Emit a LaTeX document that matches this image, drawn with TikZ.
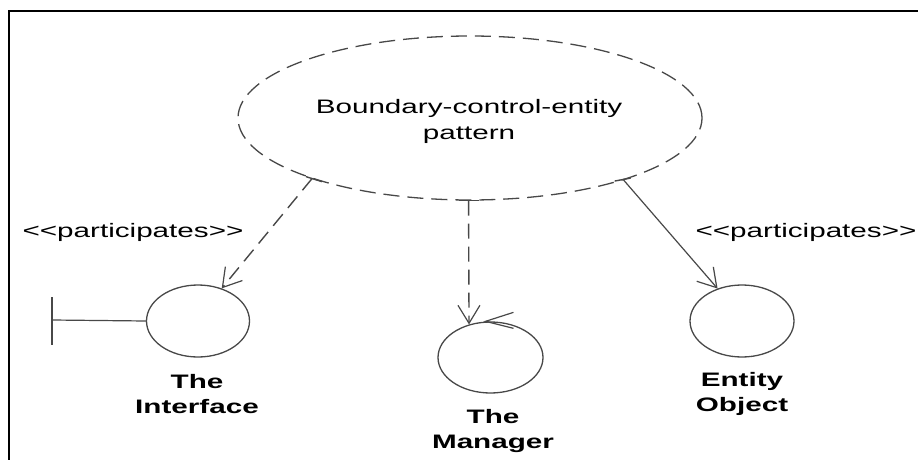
\documentclass[tikz,border=0pt]{standalone}
\usepackage{fontspec}
\setmainfont{Liberation Sans}[FakeStretch=1.52]
\usetikzlibrary{shapes.geometric,arrows.meta}
\definecolor{ln}{HTML}{484848}
\tikzset{
  ovalshape/.style={ellipse,draw=ln,line width=1.3pt,inner sep=0pt},
  lbl/.style={font=\fontsize{19.5}{25}\selectfont,inner sep=0pt,align=center},
  blbl/.style={font=\fontsize{19.5}{25}\selectfont\bfseries,inner sep=0pt,align=center},
  dline/.style={draw=ln,line width=1.4pt,dash pattern=on 15pt off 8pt},
  sline/.style={draw=ln,line width=1.2pt},
  opentip/.style={-{Straight Barb[length=18pt,width=22pt,line width=1.2pt]}},
  tick/.style={draw=ln,line width=1.4pt}
}
\begin{document}
\begin{tikzpicture}[x=1pt,y=-1pt]
\useasboundingbox (0,0) rectangle (918,460);
% frame
\draw[line width=2pt,black] (9,461) -- (9,11) -- (919,11);
% pattern ellipse
\node[ovalshape,dash pattern=on 16pt off 8pt,minimum width=464pt,minimum height=164pt] (pat) at (470,118) {};
\node[lbl,anchor=base] (pattxt) at (469,139) {Boundary-control-entity\\pattern};
% objects
\node[ovalshape,minimum width=103pt,minimum height=72pt] (int) at (198,321) {};
\node[ovalshape,minimum width=105pt,minimum height=71pt] (man) at (490.5,357.5) {};
\node[ovalshape,minimum width=104pt,minimum height=72pt] (ent) at (742,321) {};
% boundary symbol
\coordinate (bnd) at (52,320);
\draw[sline] (int.west) -- (bnd);
\draw[sline] (52,297) -- (52,345);
% control arrowhead on manager
\draw[sline] ([shift={(23,-9)}]man.north) -- ([shift={(-5,0)}]man.north) -- ([shift={(23,7)}]man.north);
% labels
\node[blbl,anchor=base] (intl) at (197,413) {The\\Interface};
\node[blbl,anchor=base] (manl) at (493,448) {The\\Manager};
\node[blbl,anchor=base] (entl) at (742,411) {Entity\\Object};
\node[lbl,anchor=base] (p1) at (133,237) {<{}<participates>{}>};
\node[lbl,anchor=base] (p2) at (806,237) {<{}<participates>{}>};
% connectors
\coordinate (s1) at (pat.201.8);
\coordinate (s2) at (pat.269);
\coordinate (s3) at (pat.338.2);
\draw[dline,opentip] (s1) -- (int.54);
\draw[dline,opentip] (s2) -- (man.123);
\draw[sline,opentip] (s3) -- (ent.127);
\draw[tick] ([shift={(-6,-2)}]s1) -- ([shift={(10,3)}]s1);
\draw[tick] ([shift={(-10,0)}]s2) -- ([shift={(10,0)}]s2);
\draw[tick] ([shift={(-9,1)}]s3) -- ([shift={(7,-2)}]s3);
\end{tikzpicture}
\end{document}
